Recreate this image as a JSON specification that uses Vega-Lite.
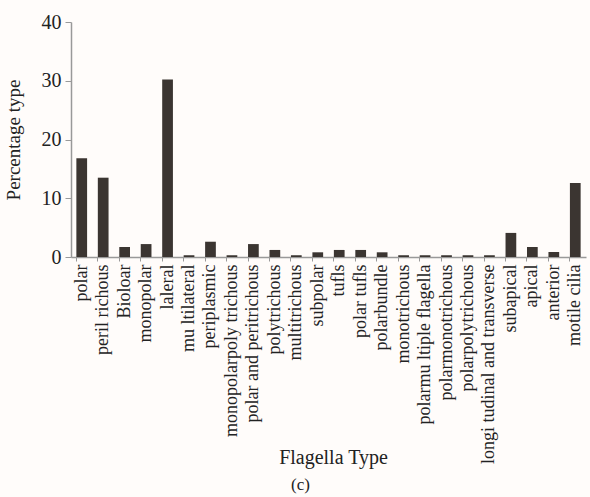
{
  "$schema": "https://vega.github.io/schema/vega-lite/v6.json",
  "width": 515,
  "height": 235,
  "autosize": "none",
  "padding": {"left": 71, "top": 22, "right": 4, "bottom": 240},
  "background": "#fffcfa",
  "config": {
    "view": {"stroke": null},
    "font": "Liberation Serif"
  },
  "title": {
    "text": "(c)",
    "orient": "bottom",
    "anchor": "middle",
    "font": "Liberation Serif",
    "fontSize": 17,
    "fontWeight": "normal",
    "color": "#222",
    "dx": -28,
    "offset": 10
  },
  "data": {
    "values": [
      {"type": "polar", "pct": 16.8},
      {"type": "peril richous", "pct": 13.5},
      {"type": "Bioloar", "pct": 1.7},
      {"type": "monopolar", "pct": 2.2},
      {"type": "laleral", "pct": 30.2},
      {"type": "mu ltilateral", "pct": 0.3},
      {"type": "periplasmic", "pct": 2.6},
      {"type": "monopolarpoly trichous", "pct": 0.3},
      {"type": "polar and peritrichous", "pct": 2.2},
      {"type": "polytrichous", "pct": 1.2},
      {"type": "multitrichous", "pct": 0.3},
      {"type": "subpolar", "pct": 0.8},
      {"type": "tufls", "pct": 1.2},
      {"type": "polar tufls", "pct": 1.2},
      {"type": "polarbundle", "pct": 0.8},
      {"type": "monotrichous", "pct": 0.3},
      {"type": "polarmu ltiple flagella", "pct": 0.3},
      {"type": "polarmonotrichous", "pct": 0.3},
      {"type": "polarpolytrichous", "pct": 0.3},
      {"type": "longi tudinal and transverse", "pct": 0.3},
      {"type": "subapical", "pct": 4.1},
      {"type": "apical", "pct": 1.7},
      {"type": "anterior", "pct": 0.85},
      {"type": "motile cilia", "pct": 12.6}
    ]
  },
  "mark": {"type": "bar", "color": "#3b3531"},
  "encoding": {
    "x": {
      "field": "type",
      "type": "nominal",
      "sort": null,
      "scale": {"paddingInner": 0.5, "paddingOuter": 0.25},
      "axis": {
        "title": "Flagella Type",
        "titleFont": "Liberation Serif",
        "titleFontSize": 20,
        "titleFontWeight": "normal",
        "titleColor": "#222",
        "titleX": 262,
        "titleY": 200,
        "titleBaseline": "middle",
        "labelAngle": -90,
        "labelFont": "Liberation Serif",
        "labelFontSize": 18,
        "labelColor": "#222",
        "labelPadding": 3,
        "labelOverlap": false,
        "labelLimit": 300,
        "bandPosition": 0,
        "tickSize": 4,
        "tickColor": "#999",
        "domainColor": "#999",
        "domainWidth": 1.5
      }
    },
    "y": {
      "field": "pct",
      "type": "quantitative",
      "scale": {"domain": [0, 40]},
      "axis": {
        "title": "Percentage type",
        "titleFont": "Liberation Serif",
        "titleFontSize": 19,
        "titleFontWeight": "normal",
        "titleColor": "#222",
        "titlePadding": 18,
        "values": [0, 10, 20, 30, 40],
        "grid": false,
        "labelFont": "Liberation Serif",
        "labelFontSize": 20,
        "labelColor": "#222",
        "labelPadding": 4,
        "tickSize": 6,
        "tickColor": "#999",
        "domainColor": "#999",
        "domainWidth": 1.5
      }
    }
  }
}
